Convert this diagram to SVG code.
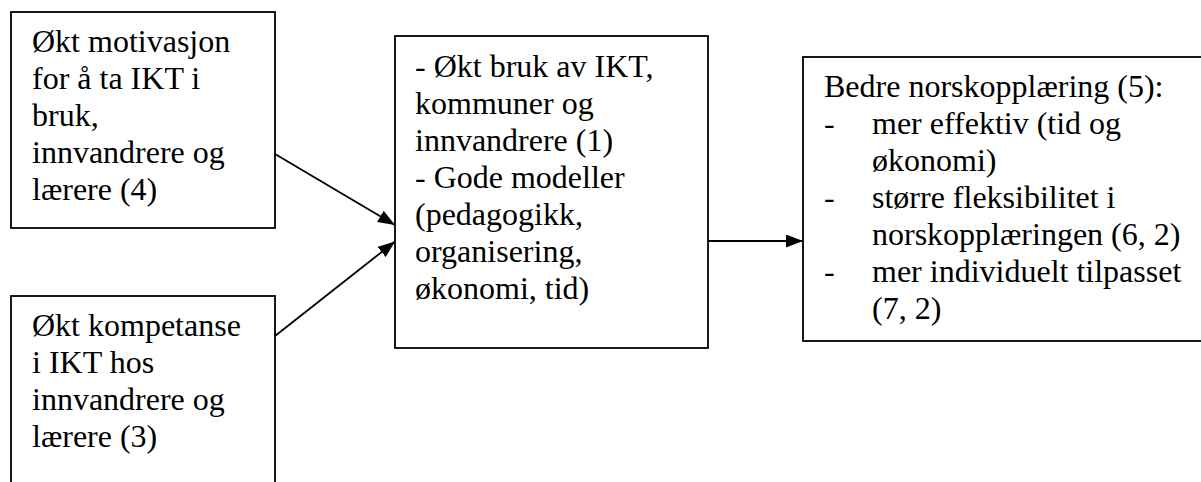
<svg xmlns="http://www.w3.org/2000/svg" width="1201" height="482" viewBox="0 0 1201 482">
  <defs>
    <style>
      .box { fill: #ffffff; stroke: #000000; stroke-width: 1.8; }
      .label { font-family: 'Liberation Serif', 'Times New Roman', Tinos, 'DejaVu Serif', serif; font-size: 32px; fill: #000000; }
      .edge { fill: none; stroke: #000000; stroke-width: 1.8; }
    </style>
    <marker id="arrowhead" markerUnits="userSpaceOnUse" markerWidth="17" markerHeight="13" refX="17" refY="6.5" orient="auto">
      <path d="M0,0 L17,6.5 L0,13 z" fill="#000000"/>
    </marker>
  </defs>

  <rect width="1201" height="482" fill="#ffffff"/>

  <!-- input: motivation -->
  <g id="motivasjon">
    <rect class="box" x="11" y="12" width="264" height="216"/>
    <text class="label" font-family="Liberation Serif, serif">
      <tspan x="32" y="52">Økt motivasjon</tspan>
      <tspan x="32" y="89">for å ta IKT i</tspan>
      <tspan x="32" y="126">bruk,</tspan>
      <tspan x="32" y="163">innvandrere og</tspan>
      <tspan x="32" y="200">lærere (4)</tspan>
    </text>
  </g>

  <!-- input: competence -->
  <g id="kompetanse">
    <rect class="box" x="11" y="296" width="264" height="200"/>
    <text class="label" font-family="Liberation Serif, serif">
      <tspan x="32" y="336">Økt kompetanse</tspan>
      <tspan x="32" y="373">i IKT hos</tspan>
      <tspan x="32" y="410">innvandrere og</tspan>
      <tspan x="32" y="447">lærere (3)</tspan>
    </text>
  </g>

  <!-- intermediate results -->
  <g id="bruk-modeller">
    <rect class="box" x="395" y="36" width="313" height="312"/>
    <text class="label" font-family="Liberation Serif, serif">
      <tspan x="415" y="77">- Økt bruk av IKT,</tspan>
      <tspan x="415" y="114">kommuner og</tspan>
      <tspan x="415" y="151">innvandrere (1)</tspan>
      <tspan x="415" y="188">- Gode modeller</tspan>
      <tspan x="415" y="225">(pedagogikk,</tspan>
      <tspan x="415" y="262">organisering,</tspan>
      <tspan x="415" y="299">økonomi, tid)</tspan>
    </text>
  </g>

  <!-- outcome -->
  <g id="norskopplaering">
    <rect class="box" x="803" y="57" width="420" height="284"/>
    <text class="label" font-family="Liberation Serif, serif">
      <tspan x="824" y="97">Bedre norskopplæring (5):</tspan>
      <tspan x="824" y="134">-</tspan>
      <tspan x="872" y="134">mer effektiv (tid og</tspan>
      <tspan x="872" y="171">økonomi)</tspan>
      <tspan x="824" y="208">-</tspan>
      <tspan x="872" y="208">større fleksibilitet i</tspan>
      <tspan x="872" y="245">norskopplæringen (6, 2)</tspan>
      <tspan x="824" y="282">-</tspan>
      <tspan x="872" y="282">mer individuelt tilpasset</tspan>
      <tspan x="872" y="319">(7, 2)</tspan>
    </text>
  </g>

  <!-- connectors -->
  <g id="connectors">
    <line class="edge" x1="275" y1="154" x2="395" y2="225" marker-end="url(#arrowhead)"/>
    <line class="edge" x1="275" y1="336" x2="395" y2="241.5" marker-end="url(#arrowhead)"/>
    <line class="edge" x1="708" y1="241" x2="803" y2="241" marker-end="url(#arrowhead)"/>
  </g>
</svg>
